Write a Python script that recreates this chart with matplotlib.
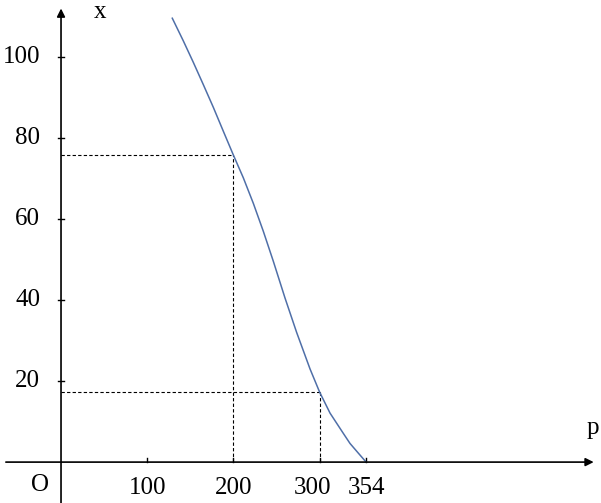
import matplotlib
matplotlib.use("Agg")
import matplotlib.pyplot as plt

# courbe (p, x)
p_vals = [129.1, 141.9, 153.5, 165.1, 176.7, 188.3, 200, 211.5, 223.1, 234.7,
          246.3, 259.9, 273.4, 288.9, 300, 312.1, 327.5, 335.3, 345, 354]
x_vals = [109.6, 104.0, 98.7, 93.2, 87.6, 81.7, 75.8, 70.2, 63.9, 57.0,
          49.6, 40.5, 32.0, 23.0, 17.3, 12.1, 7.1, 4.6, 2.2, 0]

# points repérés en pointillés
guide_p = [200, 300]
guide_x = [75.8, 17.3]

xtick_pos = [100, 200, 300, 354]
xtick_lab = ["100", "200", "300", "354"]
ytick_pos = [20, 40, 60, 80, 100]
ytick_lab = ["20", "40", "60", "80", "100"]

plt.rcParams['font.family'] = ['Liberation Serif', 'DejaVu Serif']

fig = plt.figure(figsize=(6.01, 5.03), dpi=100)
ax = fig.add_axes([0, 0, 1, 1])
ax.set_xlim(-70.8, 626.5)
ax.set_ylim(-10.1, 114.1)
ax.axis('off')

# axes avec flèches
ax.annotate('', xy=(618, 0), xytext=(-64, 0),
            arrowprops=dict(arrowstyle='-|>', color='black', lw=1.2,
                            mutation_scale=12, shrinkA=0, shrinkB=0))
ax.annotate('', xy=(0, 112), xytext=(0, -10.1),
            arrowprops=dict(arrowstyle='-|>', color='black', lw=1.2,
                            mutation_scale=12, shrinkA=0, shrinkB=0))

# graduations
for xp in xtick_pos:
    ax.plot([xp, xp], [0, 1.0], color='black', lw=1)
for yp in ytick_pos:
    ax.plot([-4, 4], [yp, yp], color='black', lw=1)

fs = 18
for xp, lab in zip(xtick_pos, xtick_lab):
    dx = -8 if xp == 300 else 0
    ax.text(xp + dx, -6.4, lab, ha='center', va='center', fontsize=fs)
for yp, lab in zip(ytick_pos, ytick_lab):
    ax.text(-24, yp, lab, ha='right', va='center', fontsize=fs)

ax.text(-24.4, -5.7, 'O', ha='center', va='center', fontsize=fs)
ax.text(45, 111.2, 'x', ha='center', va='center', fontsize=fs)
ax.text(617, 8.4, 'p', ha='center', va='center', fontsize=fs)

# pointillés
for gp, gx in zip(guide_p, guide_x):
    ax.plot([0, gp], [gx, gx], color='black', lw=0.8, ls=(0, (3, 2)))
    ax.plot([gp, gp], [0, gx], color='black', lw=0.8, ls=(0, (3, 2)))

# courbe
ax.plot(p_vals, x_vals, color='#4f6fa8', lw=1.1)

fig.savefig('out.png', dpi=100)
